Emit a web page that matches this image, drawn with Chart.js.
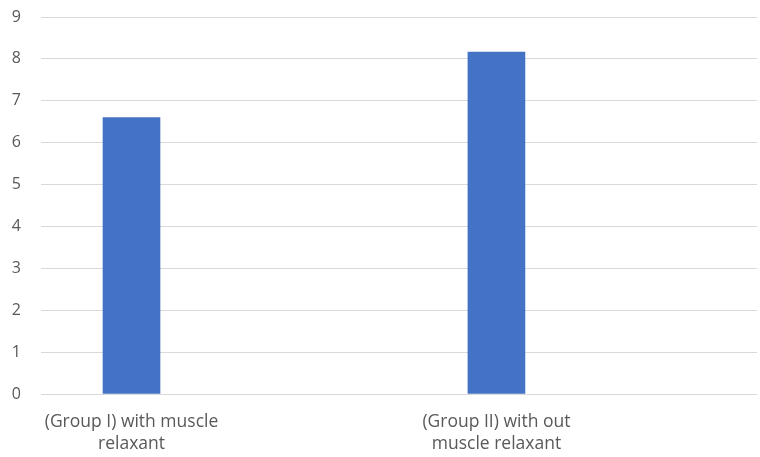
<!DOCTYPE html>
<html>
<head>
<meta charset="utf-8">
<script src="https://cdn.jsdelivr.net/npm/chart.js@4"></script>
<style>
  html, body { margin: 0; padding: 0; background: #fff; }
  #wrap { width: 760px; height: 457px; }
</style>
</head>
<body>
<div id="wrap"><canvas id="c" width="760" height="457"></canvas></div>
<script>
const categories = ['(Group I) with muscle relaxant', '(Group II) with out muscle relaxant'];
const tickLabels = [['(Group I) with muscle', 'relaxant'], ['(Group II) with out', 'muscle relaxant']];
const values = [6.6, 8.16];
const yTicks = [0, 1, 2, 3, 4, 5, 6, 7, 8, 9];

const points = categories.map((c, i) => ({ x: i, y: values[i] }));

new Chart(document.getElementById('c'), {
  type: 'bar',
  data: {
    datasets: [{
      label: 'Series 1',
      data: points,
      backgroundColor: '#4472C4',
      borderWidth: 0,
      barThickness: 57
    }]
  },
  options: {
    responsive: false,
    animation: false,
    layout: { padding: { top: 17, right: 3, left: 0, bottom: 0 } },
    plugins: { legend: { display: false }, tooltip: { enabled: false } },
    scales: {
      x: {
        type: 'linear',
        offset: false,
        min: -0.248,
        max: 1.714,
        grid: { display: false, drawTicks: false, offset: false },
        border: { display: false },
        afterBuildTicks: (scale) => { scale.ticks = categories.map((c, i) => ({ value: i })); },
        afterFit: (scale) => { scale.height = 63; },
        ticks: {
          autoSkip: false,
          maxRotation: 0,
          padding: 17,
          color: '#595959',
          font: { family: "'Open Sans', sans-serif", size: 17.5, lineHeight: 1.257 },
          callback: (v) => tickLabels[v]
        }
      },
      y: {
        min: yTicks[0],
        max: yTicks[yTicks.length - 1],
        afterBuildTicks: (scale) => { scale.ticks = yTicks.map(v => ({ value: v })); },
        afterFit: (scale) => { scale.width = 41; },
        grid: { color: '#D9D9D9', lineWidth: 1, drawTicks: true, tickLength: 19, tickColor: 'rgba(0,0,0,0)' },
        border: { display: false },
        ticks: {
          padding: 1,
          color: '#595959',
          font: { family: "'Open Sans', sans-serif", size: 16 }
        }
      }
    }
  }
});
</script>
</body>
</html>
